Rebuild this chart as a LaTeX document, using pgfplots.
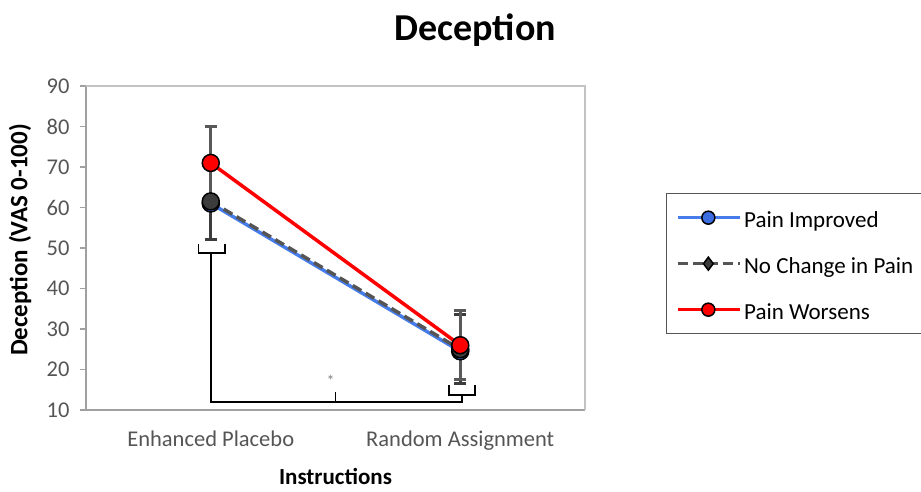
\documentclass[border=0pt]{standalone}
\usepackage{fontspec}
\setmainfont{Carlito}
\usepackage{pgfplots}
\pgfplotsset{compat=1.18}
\definecolor{pblue}{RGB}{70,125,235}
\definecolor{pblueF}{RGB}{60,110,225}
\definecolor{pgrayL}{RGB}{85,85,85}
\definecolor{pgrayF}{RGB}{60,60,60}
\definecolor{pred}{RGB}{255,0,0}
\definecolor{axgray}{RGB}{160,160,160}
\definecolor{boxgray}{RGB}{195,195,195}
\definecolor{ticktext}{RGB}{85,85,85}
\pgfplotsset{
  circlegend/.style={legend image code/.code={\draw[mark repeat=2,mark phase=2,##1, mark size=6.5pt] plot coordinates {(0pt,0pt) (30pt,0pt) (62pt,0pt)};}},
  diamlegend/.style={legend image code/.code={\draw[mark repeat=2,mark phase=2,##1, mark=diamond*, mark size=6.5pt] plot coordinates {(0pt,0pt) (30pt,0pt) (62pt,0pt)};}},
}
\begin{document}
\begin{tikzpicture}
\useasboundingbox (0,0) rectangle (921pt,491pt);
\begin{axis}[
  at={(86pt,81pt)}, anchor=south west,
  scale only axis, width=499pt, height=324pt,
  xmin=-0.5, xmax=1.5, ymin=10, ymax=90,
  ytick={10,20,...,90},
  xtick={0,1},
  xticklabels={Enhanced Placebo, Random Assignment},
  x tick style={draw=none},
  extra x ticks={0.5}, extra x tick labels={},
  extra x tick style={tick style={draw=axgray, line width=1.5pt}},
  tick align=outside, major tick length=6pt,
  y tick style={draw=axgray, line width=1.5pt},
  axis x line*=bottom, axis y line*=left,
  axis line style={draw=axgray, line width=2.5pt, -},
  /pgf/number format/assume math mode=true,
  tick label style={font=\fontsize{22.5}{26}\selectfont, text=ticktext},
  yticklabel style={xshift=-7pt},
  xticklabel style={yshift=-11pt},
  title={Deception},
  title style={font=\bfseries\fontsize{38}{44}\selectfont, at={(axis description cs:0.78,1.154)}, anchor=center},
  xlabel={Instructions},
  xlabel style={font=\bfseries\fontsize{23}{26}\selectfont, at={(axis description cs:0.5,-0.204)}, anchor=center},
  ylabel={Deception (VAS 0-100)},
  ylabel style={font=\bfseries\fontsize{25}{28}\selectfont, at={(axis description cs:-0.132,0.525)}, anchor=center, rotate=0},
  clip=false,
  legend cell align=left,
  legend style={at={(axis description cs:1.162,0.670)}, anchor=north west,
    font=\fontsize{23}{26}\selectfont, draw=pgrayL, line width=1.5pt,
    inner xsep=10pt, inner ysep=9pt, row sep=16pt,
    nodes={text height=23pt, text depth=3pt}},
  circlegend,
]
% frame top and right
\addplot[boxgray, line width=2pt, forget plot, mark=none] coordinates {(-0.5,90) (1.5,90) (1.5,10)};
% significance bracket
\addplot[black, line width=1.8pt, forget plot, mark=none] coordinates {(0,48.8) (0,12) (1.007,12) (1.007,13.7)};
\addplot[black, line width=1.5pt, forget plot, mark=none] coordinates {(-0.05,51) (-0.05,48.8) (0.057,48.8) (0.057,51)};
\addplot[black, line width=1.5pt, forget plot, mark=none] coordinates {(0.955,16.2) (0.955,13.7) (1.06,13.7) (1.06,16.2)};
\addplot[black, line width=1.5pt, forget plot, mark=none] coordinates {(0.5,12) (0.5,14.5)};
\node[text=gray, font=\fontsize{16}{16}\selectfont] at (axis cs:0.48,17.3) {*};
% series
\addplot[pblue, line width=3.5pt, mark=*, mark size=8.5pt, mark options={fill=pblueF, draw=black, line width=1.5pt, solid}]
  coordinates {(0,61) (1,24.5)};
\addlegendentry{Pain Improved}
\addplot[pgrayL, line width=3.5pt, dashed, dash pattern=on 10pt off 5pt, mark=*, mark size=8.5pt,
  mark options={fill=pgrayF, draw=black, line width=1.5pt, solid},
  diamlegend,
  error bars/.cd, y dir=both, y explicit,
  error bar style={draw=pgrayF, line width=3pt, solid},
  error mark options={draw=pgrayF, line width=3pt, mark size=6pt, rotate=90, solid}]
  coordinates {(0,61.5) +- (0,9.5) (1,25) +- (0,8.5)};
\addlegendentry{No Change in Pain}
\addplot[pred, line width=3.5pt, mark=*, mark size=8.5pt, mark options={fill=pred, draw=black, line width=1.5pt, solid},
  error bars/.cd, y dir=both, y explicit,
  error bar style={draw=gray!70!black, line width=3pt},
  error mark options={draw=gray!70!black, line width=3pt, mark size=6pt, rotate=90}]
  coordinates {(0,71) +- (0,9) (1,26) +- (0,8.5)};
\addlegendentry{Pain Worsens}
\end{axis}
\end{tikzpicture}
\end{document}
